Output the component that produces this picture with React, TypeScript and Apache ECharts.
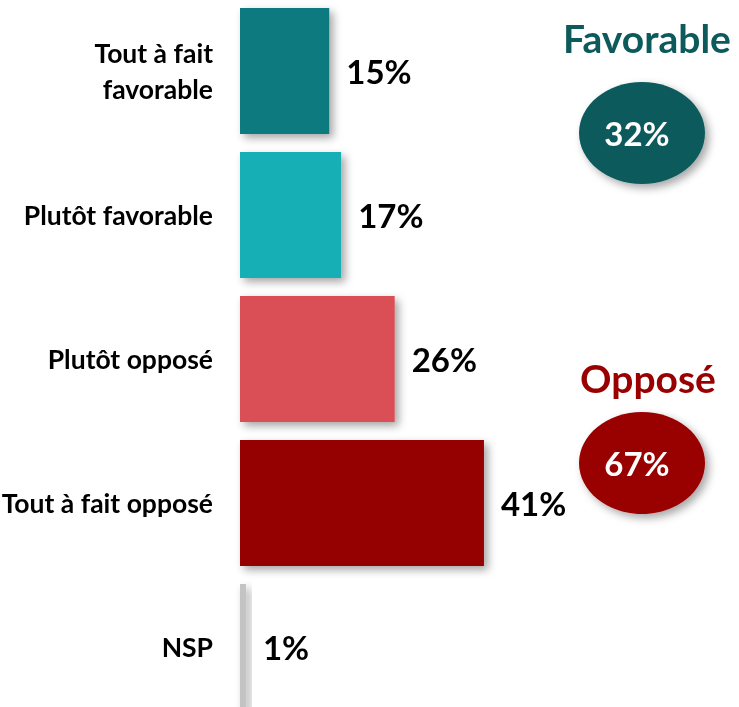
import React, { useEffect, useRef } from "react";
import * as echarts from "echarts";

const categories = ["Tout à fait\nfavorable", "Plutôt favorable", "Plutôt opposé", "Tout à fait opposé", "NSP"];
const values = [15, 17, 26, 41, 1];
const barColors = ["#117a80", "#14afb6", "#d94f54", "#950000", "#c3c3c3"];

const summaryTitles = ["Favorable", "Opposé"];
const summaryValues = [32, 67];
const summaryColors = ["#0d5a5c", "#990000"];

const FONT = "Lato";

export default function App() {
  const ref = useRef<HTMLDivElement>(null);
  useEffect(() => {
    if (!ref.current) return;
    const chart = echarts.init(ref.current, null, { renderer: "svg" });
    const titlePos = [
      { x: 647, y: 38 },
      { x: 648, y: 378 },
    ];
    const ellPos = [
      { x: 642, y: 133 },
      { x: 642, y: 463 },
    ];
    const graphic: any[] = [];
    summaryTitles.forEach((t, i) => {
      graphic.push({
        type: "text",
        x: titlePos[i].x,
        y: titlePos[i].y,
        style: {
          text: t,
          fill: summaryColors[i],
          font: `bold 39px ${FONT}`,
          align: "center",
          verticalAlign: "middle",
          textAlign: "center",
          textVerticalAlign: "middle",
        },
      });
      graphic.push({
        type: "ellipse",
        shape: { cx: ellPos[i].x, cy: ellPos[i].y, rx: 63, ry: 51 },
        style: {
          fill: summaryColors[i],
          shadowBlur: 8,
          shadowOffsetX: 4,
          shadowOffsetY: 4,
          shadowColor: "rgba(0,0,0,0.35)",
        },
      });
      graphic.push({
        type: "text",
        x: ellPos[i].x - 5,
        y: ellPos[i].y,
        style: {
          text: summaryValues[i] + "%",
          fill: "#ffffff",
          font: `bold 33px ${FONT}`,
          align: "center",
          verticalAlign: "middle",
          textAlign: "center",
          textVerticalAlign: "middle",
        },
      });
    });

    chart.setOption({
      animation: false,
      grid: {
        left: 240,
        top: -1,
        width: 357,
        height: 720,
        containLabel: false,
        outerBoundsMode: "none",
      },
      xAxis: { type: "value", min: 0, max: 60, show: false },
      yAxis: {
        type: "category",
        data: categories,
        inverse: true,
        axisLine: { show: false },
        axisTick: { show: false },
        splitLine: { show: false },
        axisLabel: {
          margin: 27,
          fontFamily: FONT,
          fontWeight: "bold",
          fontSize: 26.5,
          color: "#000000",
          lineHeight: 36,
          align: "right",
        },
      },
      series: [
        {
          type: "bar",
          barWidth: 126,
          data: values.map((v, i) => ({
            value: v,
            itemStyle: { color: barColors[i] },
          })),
          itemStyle: {
            shadowBlur: 8,
            shadowOffsetX: 4,
            shadowOffsetY: 4,
            shadowColor: "rgba(0,0,0,0.35)",
          },
          label: {
            show: true,
            position: "right",
            distance: 17,
            formatter: "{c}%",
            fontFamily: FONT,
            fontWeight: "bold",
            fontSize: 33,
            color: "#000000",
          },
        },
      ],
      graphic,
    });
    return () => chart.dispose();
  }, []);
  return (
    <div
      ref={ref}
      style={{ position: "fixed", left: 0, top: 0, width: 739, height: 707 }}
    />
  );
}
